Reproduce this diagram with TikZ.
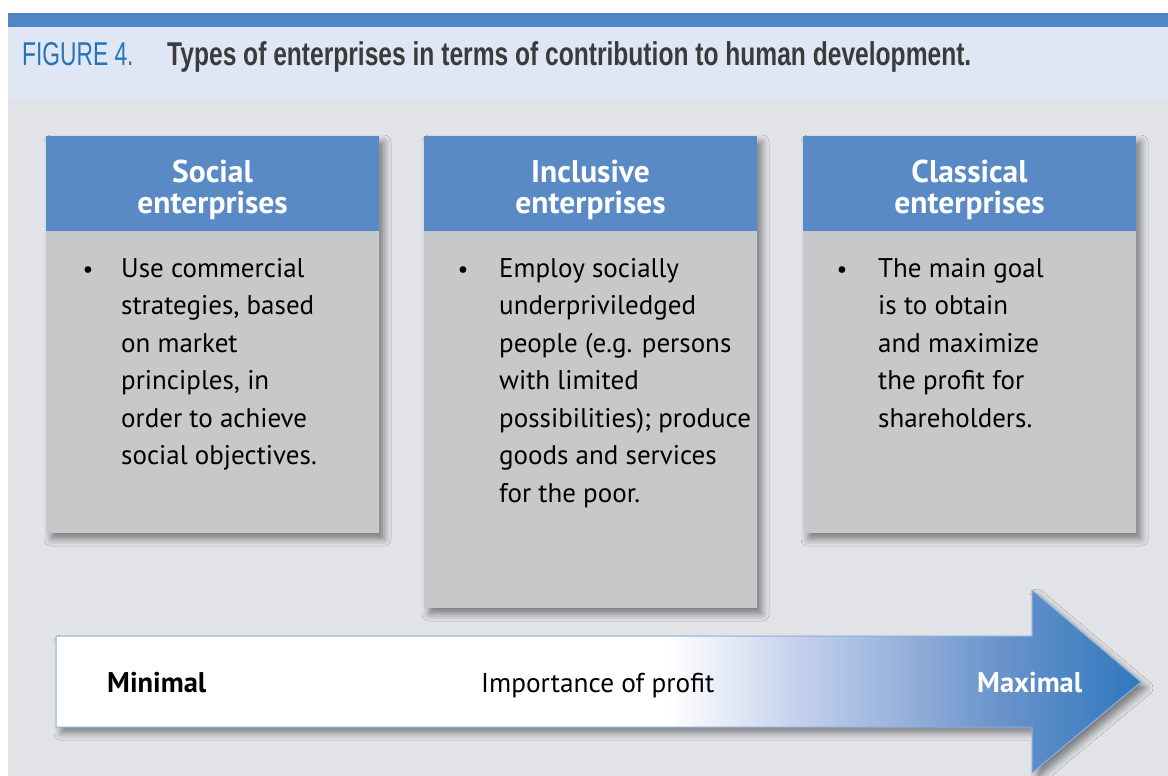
\documentclass[tikz,border=0pt]{standalone}
\usepackage{fontspec}
\setmainfont{PT Sans}
\newfontfamily\titlefont[FakeStretch=0.745]{Liberation Sans}
\newfontfamily\figfont[FakeStretch=0.69]{Liberation Sans}
\usetikzlibrary{shadows.blur}
\definecolor{topbar}{HTML}{5185C3}
\definecolor{band}{HTML}{DFE6F4}
\definecolor{bg}{HTML}{E1E3E6}
\definecolor{hdrblue}{HTML}{5A8AC6}
\definecolor{bodygray}{HTML}{C7C8CA}
\definecolor{figblue}{HTML}{2574B9}
\definecolor{titlegray}{HTML}{3B3B3D}
\definecolor{arrowedge}{HTML}{8EB1DB}
\definecolor{ga}{HTML}{C3D0EC}
\definecolor{gb}{HTML}{6A93CB}
\definecolor{gc}{HTML}{2F78BE}
\pgfdeclarehorizontalshading{profitshade}{100bp}{color(0bp)=(white); color(53.2bp)=(white); color(59.3bp)=(ga); color(68.5bp)=(gb); color(75bp)=(gc); color(100bp)=(gc)}
\tikzset{
  boxshadow/.style={blur shadow={shadow xshift=5pt, shadow yshift=-6pt, shadow blur radius=7pt, shadow opacity=45}},
  hdrbox/.style={rectangle, fill=hdrblue, minimum width=333pt, minimum height=95pt, inner sep=0pt, anchor=north west},
  bodybox/.style={rectangle, fill=bodygray, minimum width=333pt, inner sep=0pt, anchor=north west},
  hdrtext/.style={anchor=base, inner sep=0pt, text=white, font=\bfseries\fontsize{31.5}{30.5}\selectfont},
  bodytext/.style={anchor=base west, inner sep=0pt, text=black, font=\fontsize{27}{37.5}\selectfont},
  bulletmark/.style={anchor=base, inner sep=0pt, text=black, font=\fontsize{24}{37.5}\selectfont},
  scaletext/.style={anchor=base west, inner sep=0pt, font=\fontsize{27.3}{30}\selectfont},
  scalebold/.style={anchor=base west, inner sep=0pt, font=\bfseries\fontsize{28.5}{30}\selectfont},
}
\begin{document}
\begin{tikzpicture}[x=1pt,y=-1pt]
\useasboundingbox (0,0) rectangle (1168,776);
\fill[white] (0,0) rectangle (1168,776);
\fill[bg] (8,99) rectangle (1168,776);
\fill[band] (8,27) rectangle (1168,99);
\fill[topbar] (8,13) rectangle (1168,27);
% title
\node[anchor=base west, inner sep=0pt, text=figblue, font=\figfont\fontsize{33}{33}\selectfont] (fig) at (22,66) {FIGURE 4.};
\node[anchor=base west, inner sep=0pt, text=titlegray, font=\titlefont\bfseries\fontsize{33}{33}\selectfont] (title) at (167,66) {Types of enterprises in terms of contribution to human development.};
% shadows
\path[boxshadow, fill=bodygray] (46,136) rectangle (379,533);
\path[boxshadow, fill=bodygray] (424,136) rectangle (757,608);
\path[boxshadow, fill=bodygray] (803,136) rectangle (1136,533);
% box 1
\node[hdrbox] (h1) at (46,136) {};
\node[bodybox, minimum height=302pt] (b1) at (46,231) {};
\node[hdrtext] (t1) at (212.5,182) {\begin{tabular}[t]{@{}c@{}}Social\\enterprises\end{tabular}};
\node[bulletmark] (d1) at (88,277) {•};
\node[bodytext] (x1) at (121,277) {\begin{tabular}[t]{@{}l@{}}Use commercial\\strategies, based\\on market\\principles, in\\order to achieve\\social objectives.\end{tabular}};
% box 2
\node[hdrbox] (h2) at (424,136) {};
\node[bodybox, minimum height=377pt] (b2) at (424,231) {};
\node[hdrtext] (t2) at (590.5,182) {\begin{tabular}[t]{@{}c@{}}Inclusive\\enterprises\end{tabular}};
\node[bulletmark] (d2) at (463,277) {•};
\node[bodytext] (x2) at (499,277) {\begin{tabular}[t]{@{}l@{}}Employ socially\\underpriviledged\\people (e.g. persons\\with limited\\possibilities); produce\\goods and services\\for the poor.\end{tabular}};
% box 3
\node[hdrbox] (h3) at (803,136) {};
\node[bodybox, minimum height=302pt] (b3) at (803,231) {};
\node[hdrtext] (t3) at (969.5,182) {\begin{tabular}[t]{@{}c@{}}Classical\\enterprises\end{tabular}};
\node[bulletmark] (d3) at (842,277) {•};
\node[bodytext] (x3) at (878,277) {\begin{tabular}[t]{@{}l@{}}The main goal\\is to obtain\\and maximize\\the profit for\\shareholders.\end{tabular}};
% arrow
\path[boxshadow, shading=profitshade, draw=arrowedge, line width=1pt]
  (56,636) -- (1032,636) -- (1032,590) -- (1141,682) -- (1032,773) -- (1032,727) -- (56,727) -- cycle;
\node[scalebold] (mn) at (107,692) {Minimal};
\node[scaletext] (ip) at (481,692) {Importance of profit};
\node[scalebold, text=white] (mx) at (977,692) {Maximal};
\end{tikzpicture}
\end{document}
